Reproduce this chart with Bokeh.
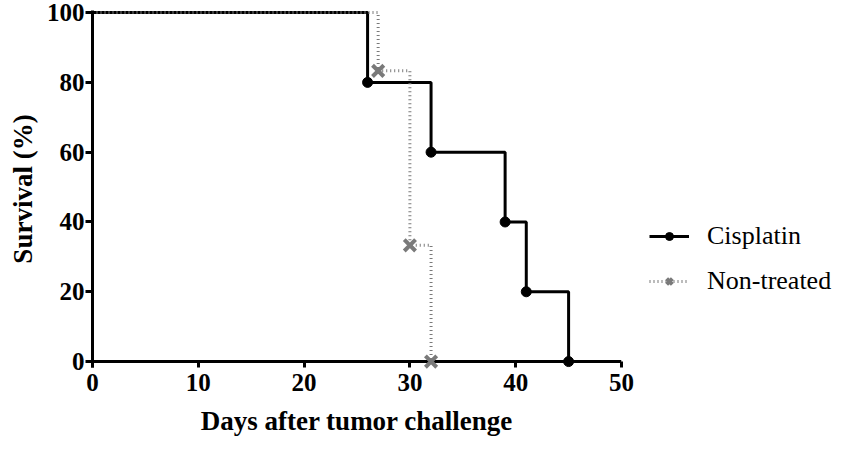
from bokeh.plotting import figure
from bokeh.models import Range1d, Legend, LegendItem, FixedTicker, Span
from bokeh.embed import file_html
from bokeh.resources import INLINE

cis_days = [0, 26, 32, 39, 41, 45]
cis_surv = [100, 80, 60, 40, 20, 0]
non_days = [0, 27, 30, 32]
non_surv = [100, 83.3, 33.3, 0]
x_ticks = [0, 10, 20, 30, 40, 50]
y_ticks = [0, 20, 40, 60, 80, 100]

FONT = "Liberation Serif"

p = figure(frame_width=529, frame_height=357, output_backend="svg", toolbar_location=None,
           x_range=Range1d(0, 50), y_range=Range1d(-1.7, 100.6),
           min_border_left=92, min_border_top=10, min_border_bottom=66, min_border_right=0)
p.outline_line_color = None
p.grid.visible = False
p.background_fill_color = "white"

c_line = p.step(cis_days, cis_surv, mode="after", line_color="black", line_width=3)
n_line = p.step(non_days, non_surv, mode="after", line_color="#7a7a7a", line_width=3, line_dash="1 3")
p.add_layout(Span(location=0, dimension="width", line_color="black", line_width=3))
c_pts = p.scatter(cis_days[1:], cis_surv[1:], marker="circle", size=10, color="black", level="overlay")
n_pts = p.scatter(non_days[1:], non_surv[1:], marker="x", size=16, line_color="#7a7a7a", line_width=4,
                  level="overlay")

for ax in (p.xaxis[0], p.yaxis[0]):
    ax.axis_line_width = 3
    ax.major_tick_line_width = 3
    ax.minor_tick_line_color = None
    ax.major_label_text_font = FONT
    ax.major_label_text_font_style = "bold"
    ax.major_label_text_font_size = "25px"
    ax.major_label_text_color = "black"
    ax.axis_label_text_font = FONT
    ax.axis_label_text_font_style = "bold"
    ax.axis_label_text_font_size = "27px"
    ax.axis_label_text_color = "black"

p.yaxis.major_tick_out = 7
p.yaxis.major_tick_in = 0
p.xaxis.axis_line_color = None
p.xaxis.major_tick_in = 6
p.xaxis.major_tick_out = 0
p.xaxis.ticker = FixedTicker(ticks=x_ticks)
p.yaxis.ticker = FixedTicker(ticks=y_ticks)
p.xaxis.axis_label = "Days after tumor challenge"
p.yaxis.axis_label = "Survival (%)"
p.xaxis.major_label_standoff = 6
p.yaxis.major_label_standoff = 1
p.xaxis.axis_label_standoff = 12
p.yaxis.axis_label_standoff = 6

legend = Legend(items=[LegendItem(label="Cisplatin", renderers=[c_line, c_pts]),
                       LegendItem(label="Non-treated", renderers=[n_line, n_pts])],
                location=(28, 71), border_line_color=None, background_fill_alpha=0,
                label_text_font=FONT, label_text_font_size="26px", label_text_color="black",
                glyph_width=40, label_standoff=18, spacing=15, padding=0, margin=0)
p.add_layout(legend, "right")

open("out.html", "w").write(file_html(p, INLINE))
